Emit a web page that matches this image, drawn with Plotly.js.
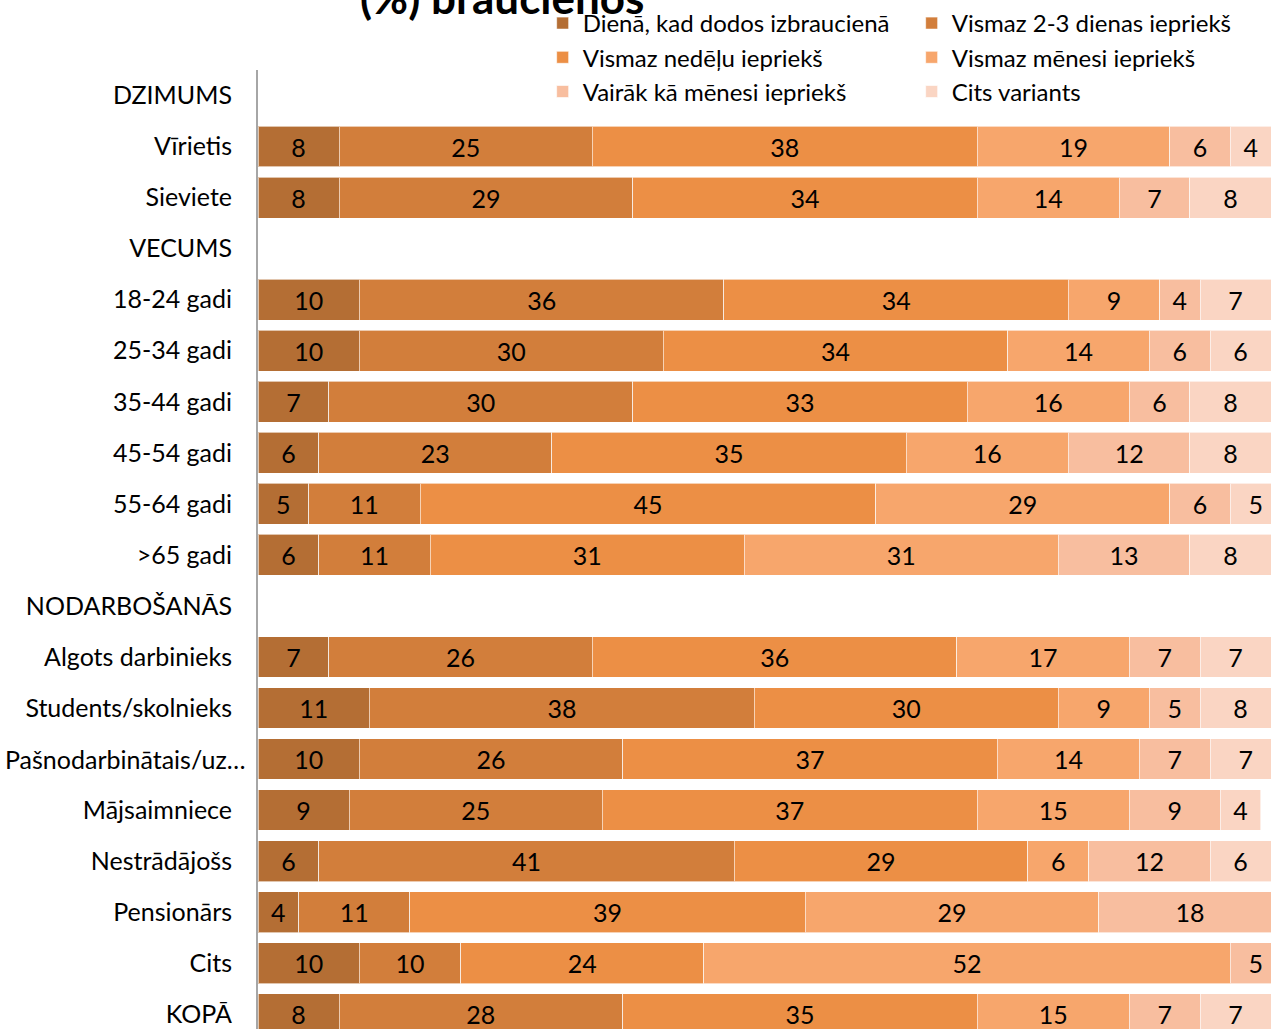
<!DOCTYPE html>
<html>
<head>
<meta charset="utf-8">
<script src="https://cdn.plot.ly/plotly-3.0.1.min.js"></script>
<style>html,body{margin:0;padding:0;background:#fff;}#chart{width:1271px;height:1029px;}</style>
</head>
<body>
<div id="chart"></div>
<script>
// Categories (top to bottom); section headers carry no values
const categories = [
  "DZIMUMS", "Vīrietis", "Sieviete",
  "VECUMS", "18-24 gadi", "25-34 gadi", "35-44 gadi", "45-54 gadi", "55-64 gadi", ">65 gadi",
  "NODARBOŠANĀS", "Algots darbinieks", "Students/skolnieks", "Pašnodarbinātais/uz…",
  "Mājsaimniece", "Nestrādājošs", "Pensionārs", "Cits", "KOPĀ"
];
// The truncated label overhangs the other labels' right edge in the original
const overhangLabel = "Pašnodarbinātais/uz…";

const seriesNames = [
  "Dienā, kad dodos izbraucienā",
  "Vismaz 2-3 dienas iepriekš",
  "Vismaz nedēļu iepriekš",
  "Vismaz mēnesi iepriekš",
  "Vairāk kā mēnesi iepriekš",
  "Cits variants"
];

const dienaKadDodos   = [null, 8, 8, null, 10, 10, 7, 6, 5, 6, null, 7, 11, 10, 9, 6, 4, 10, 8];
const vismaz2_3Dienas = [null, 25, 29, null, 36, 30, 30, 23, 11, 11, null, 26, 38, 26, 25, 41, 11, 10, 28];
const vismazNedelu    = [null, 38, 34, null, 34, 34, 33, 35, 45, 31, null, 36, 30, 37, 37, 29, 39, 24, 35];
const vismazMenesi    = [null, 19, 14, null, 9, 14, 16, 16, 29, 31, null, 17, 9, 14, 15, 6, 29, 52, 15];
const vairakKaMenesi  = [null, 6, 7, null, 4, 6, 6, 12, 6, 13, null, 7, 5, 7, 9, 12, 18, 5, 7];
const citsVariants    = [null, 4, 8, null, 7, 6, 8, 8, 5, 8, null, 7, 8, 7, 4, 6, null, null, 7];

const seriesValues = [dienaKadDodos, vismaz2_3Dienas, vismazNedelu, vismazMenesi, vairakKaMenesi, citsVariants];
const colors = ["#B46E34", "#D27E3B", "#EC8F45", "#F7A66C", "#F8BE9F", "#FAD5C3"];

const FONT = "Lato, 'Noto Sans', sans-serif";

const traces = seriesValues.map((vals, i) => ({
  type: "bar",
  orientation: "h",
  name: seriesNames[i],
  y: categories,
  x: vals,
  marker: { color: colors[i], line: { color: "rgba(255,255,255,0.6)", width: 1 } },
  texttemplate: "%{x}",
  textposition: "inside",
  insidetextanchor: "middle",
  textangle: 0,
  textfont: { family: FONT, size: 25, color: "#000000" },
  hoverinfo: "name+x"
}));

const layout = {
  width: 1271,
  height: 1029,
  margin: { l: 258, r: 0, t: 70, b: 0, pad: 0, autoexpand: false },
  barmode: "stack",
  bargap: 0.2,
  paper_bgcolor: "#ffffff",
  plot_bgcolor: "#ffffff",
  font: { family: FONT, size: 25, color: "#000000" },
  showlegend: true,
  legend: {
    orientation: "h",
    x: 0.281, xanchor: "left",
    y: 1 - 1 / 1029, yref: "container", yanchor: "top",
    entrywidth: 324,
    traceorder: "normal",
    bgcolor: "rgba(0,0,0,0)",
    font: { family: FONT, size: 24, color: "#000000" },
    itemclick: false
  },
  xaxis: {
    range: [0, 100],
    showgrid: false,
    zeroline: false,
    showline: false,
    showticklabels: false,
    ticks: ""
  },
  yaxis: {
    type: "category",
    autorange: false,
    range: [18.29, -0.5],
    showgrid: false,
    zeroline: false,
    showline: true,
    linecolor: "#A6A6A6",
    linewidth: 2,
    ticks: "",
    tickmode: "array",
    tickvals: categories,
    ticktext: categories.map(c => (c === overhangLabel ? "" : c)),
    ticklabelstandoff: 19,
    tickfont: { family: FONT, size: 25, color: "#000000" }
  },
  annotations: [
    {
      text: "<b>(%) braucienos</b>",
      xref: "paper", yref: "paper",
      x: 0.2409, y: 1,
      xanchor: "center", yanchor: "bottom",
      yshift: 45,
      showarrow: false,
      font: { family: FONT, size: 44, color: "#000000" }
    },
    {
      text: overhangLabel,
      xref: "paper", yref: "y",
      x: -10 / 1013, y: overhangLabel,
      xanchor: "right", yanchor: "middle",
      showarrow: false,
      font: { family: FONT, size: 25, color: "#000000" }
    }
  ]
};

Plotly.newPlot("chart", traces, layout, { displayModeBar: false, staticPlot: true });
</script>
</body>
</html>
